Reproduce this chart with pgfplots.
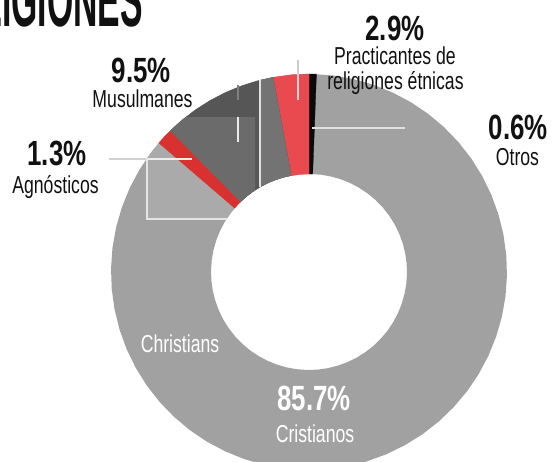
\documentclass[border=0pt]{standalone}
\usepackage{pgfplots}
\pgfplotsset{compat=1.18}
\usepgfplotslibrary{polar}
\usepackage{fontspec}
\setmainfont{Liberation Sans}
\definecolor{cris}{HTML}{A1A1A1}
\definecolor{crisl}{HTML}{AAAAAA}
\definecolor{mus}{HTML}{565656}
\definecolor{musA}{HTML}{737373}
\definecolor{musB}{HTML}{6B6B6B}
\definecolor{agn}{HTML}{D93030}
\definecolor{pra}{HTML}{E84A4F}
\definecolor{otr}{HTML}{0A0A0A}
\definecolor{txt}{HTML}{111111}
\newcommand{\lab}[1]{\scalebox{0.72}[1]{\fontsize{24.5}{24.5}\selectfont #1}}
\newcommand{\num}[1]{\scalebox{0.74}[1]{\fontsize{35}{35}\selectfont\bfseries #1}}
\begin{document}
\begin{tikzpicture}
\begin{axis}[x=1pt, y=1pt, xmin=-309, xmax=246, ymin=-190, ymax=272,
  scale only axis, axis lines=none, ticks=none, no markers, clip=true]
\coordinate (ll) at (rel axis cs:0,0);
\coordinate (ur) at (rel axis cs:1,1);
% Cristianos ring (85.7%)
\addplot[data cs=polar, fill=cris, draw=none] coordinates {
(89,198) (95,198) (101,198) (107,198) (113,198) (119,198) (125,198) (131,198) (137,198) (143,198)
(149,198) (155,198) (161,198) (167,198) (173,198) (179,198) (185,198) (191,198) (197,198) (203,198)
(209,198) (215,198) (221,198) (227,198) (233,198) (239,198) (245,198) (251,198) (257,198) (263,198)
(269,198) (275,198) (281,198) (287,198) (293,198) (299,198) (305,198) (311,198) (317,198) (323,198)
(329,198) (335,198) (341,198) (347,198) (353,198) (359,198) (365,198) (371,198) (377,198) (383,198)
(389,198) (395,198) (401,198) (407,198) (413,198) (419,198) (425,198) (431,198) (437,198) (443,198) (449,198)
(449,98) (443,98) (437,98) (431,98) (425,98) (419,98) (413,98) (407,98) (401,98) (395,98)
(389,98) (383,98) (377,98) (371,98) (365,98) (359,98) (353,98) (347,98) (341,98) (335,98)
(329,98) (323,98) (317,98) (311,98) (305,98) (299,98) (293,98) (287,98) (281,98) (275,98)
(269,98) (263,98) (257,98) (251,98) (245,98) (239,98) (233,98) (227,98) (221,98) (215,98)
(209,98) (203,98) (197,98) (191,98) (185,98) (179,98) (173,98) (167,98) (161,98) (155,98)
(149,98) (143,98) (137,98) (131,98) (125,98) (119,98) (113,98) (107,98) (101,98) (95,98) (89,98)
} -- cycle;
% lighter patch in Cristianos
\addplot[data cs=polar, fill=crisl, draw=none] coordinates {
(139.32,198) (139.32,98) (143,98) (147.25,98) (161.88,170.4) (144.91,198) (142,198)
} -- cycle;
% Otros 0.6%
\addplot[data cs=polar, fill=otr, draw=otr, line width=0.3pt] coordinates {
(87.84,198) (90,198) (90,98) (87.84,98)
} -- cycle;
% Practicantes 2.9%
\addplot[data cs=polar, fill=pra, draw=pra, line width=0.3pt] coordinates {
(90,198) (95,198) (100.44,198) (100.44,98) (95,98) (90,98)
} -- cycle;
% Musulmanes 9.5%
\addplot[data cs=polar, fill=mus, draw=mus, line width=0.3pt] coordinates {
(100.44,198) (105,198) (110,198) (115,198) (120,198) (125,198) (130,198) (134.64,198)
(134.64,98) (130,98) (125,98) (120,98) (115,98) (110,98) (105,98) (100.44,98)
} -- cycle;
\addplot[data cs=polar, fill=musA, draw=none] coordinates {
(100.44,198) (102.4,198) (104.33,198) (120,98) (115,98) (110,98) (105,98) (100.44,98)
} -- cycle;
\addplot[data cs=polar, fill=musB, draw=none] coordinates {
(128.48,198) (109.21,164.1) (123.44,98) (127,98) (131,98) (134.64,98) (134.64,198) (131.5,198)
} -- cycle;
% Agnosticos 1.3%
\addplot[data cs=polar, fill=agn, draw=agn, line width=0.3pt] coordinates {
(134.64,198) (137,198) (139.32,198) (139.32,98) (137,98) (134.64,98)
} -- cycle;
% leader / overlay lines
\addplot[draw=black!18, line width=1.2pt] coordinates {(-200,113) (-163,113)};
\addplot[draw=black!7, line width=1.2pt] coordinates {(-163,113) (-117,113)};
\addplot[draw=black!8, line width=1.2pt] coordinates {(-71,155) (-71,130)};
\addplot[draw=black!50, line width=1.2pt] coordinates {(-71,187) (-71,172)};
\addplot[draw=black!20, line width=1.2pt] coordinates {(-11,212) (-11,198)};
\addplot[draw=pra!25, line width=1.2pt] coordinates {(-11,198) (-11,172)};
\addplot[draw=black!12, line width=1.2pt] coordinates {(3,144) (96,144)};
\addplot[draw=black!12, line width=1.2pt] coordinates {(-49,191.8) (-49,84.9)};
\addplot[draw=black!10, line width=1.2pt] coordinates {(-162,113.8) (-162,53) (-82.4,53)};
% texts
\node[anchor=base east, inner sep=0, text=txt] at (axis cs:-166,245) {\scalebox{0.45}[1]{\fontsize{75}{75}\selectfont\bfseries RELIGIONES}};
\node[anchor=base, inner sep=0, text=txt] at (axis cs:-167.5,189) {\num{9.5\%}};
\node[anchor=base, inner sep=0, text=txt] at (axis cs:-166.5,164) {\lab{Musulmanes}};
\node[anchor=base, inner sep=0, text=txt] at (axis cs:-252,106) {\num{1.3\%}};
\node[anchor=base, inner sep=0, text=txt] at (axis cs:-253.5,78.7) {\lab{Agnósticos}};
\node[anchor=base, inner sep=0, text=txt] at (axis cs:86,231.5) {\num{2.9\%}};
\node[anchor=base, inner sep=0, text=txt] at (axis cs:86,207) {\lab{Practicantes de}};
\node[anchor=base, inner sep=0, text=txt] at (axis cs:86.5,182.7) {\lab{religiones étnicas}};
\node[anchor=base, inner sep=0, text=txt] at (axis cs:209.5,132) {\num{0.6\%}};
\node[anchor=base, inner sep=0, text=txt] at (axis cs:208.5,106) {\lab{Otros}};
\node[anchor=base, inner sep=0, text=white] at (axis cs:-129,-81) {\lab{Christians}};
\node[anchor=base, inner sep=0, text=white] at (axis cs:5,-139) {\num{85.7\%}};
\node[anchor=base, inner sep=0, text=white] at (axis cs:6,-171) {\lab{Cristianos}};
\end{axis}
\pgfresetboundingbox
\path (ll) rectangle (ur);
\end{tikzpicture}
\end{document}
